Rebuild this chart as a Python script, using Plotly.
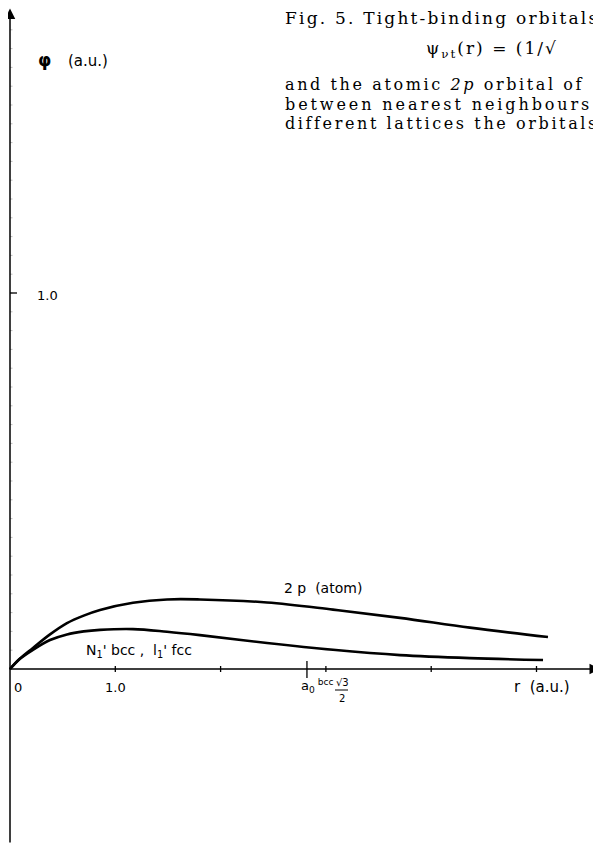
import plotly.graph_objects as go

# ---- data ----
r_2p = [0.0, 0.095, 0.218, 0.380, 0.541, 0.700, 0.855, 1.168, 1.491, 1.804, 2.441, 3.067, 3.704, 4.368, 5.109]
phi_2p = [0.0, 0.028, 0.056, 0.092, 0.122, 0.142, 0.157, 0.176, 0.185, 0.185, 0.177, 0.158, 0.136, 0.110, 0.085]

r_n1 = [0.0, 0.095, 0.218, 0.380, 0.541, 0.700, 0.855, 1.168, 1.491, 1.804, 2.441, 3.067, 3.704, 4.368, 5.062]
phi_n1 = [0.0, 0.027, 0.051, 0.077, 0.092, 0.100, 0.104, 0.106, 0.099, 0.090, 0.069, 0.051, 0.037, 0.029, 0.024]

x_ticks = [1, 2, 3, 4, 5]
x_tick_labels = ["0", "1.0"]
a0_tick = 2.82
y_major_ticks = [1.0]
y_minor_ticks = [round(0.05 * i, 2) for i in range(1, 35)]

caption_lines = [
    "Fig. 5. Tight-binding orbitals",
    "ψ<sub>νt</sub>(r) = (1/√",
    "and the atomic <i>2p</i> orbital of",
    "between nearest neighbours",
    "different lattices the orbitals",
]

# the page body has an 8px margin: the figure is drawn 8px lower/right
OFF = 8
W, H = 601 - OFF, 844 - OFF
PX_PER_R = 105.3
PX_PER_PHI = 376.0
ORIGIN_X = 10 - OFF   # figure px of r = 0
ORIGIN_Y = 669 - OFF  # figure px of phi = 0
X_RANGE = [-ORIGIN_X / PX_PER_R, (W - ORIGIN_X) / PX_PER_R]
Y_RANGE = [-(H - ORIGIN_Y) / PX_PER_PHI, ORIGIN_Y / PX_PER_PHI]

fig = go.Figure()
line_style = dict(color="black", width=2.6, shape="spline", smoothing=1.0)
fig.add_trace(go.Scatter(x=r_2p, y=phi_2p, mode="lines", line=line_style, hoverinfo="skip"))
fig.add_trace(go.Scatter(x=r_n1, y=phi_n1, mode="lines", line=line_style, hoverinfo="skip"))

# axes with arrows
ann = []
ann.append(dict(x=0, y=Y_RANGE[1] - 0.5 / PX_PER_PHI, ax=0, ay=Y_RANGE[0], xref="x", yref="y",
                axref="x", ayref="y", showarrow=True, arrowhead=2, arrowsize=1.4,
                arrowwidth=1.5, arrowcolor="black", text="", standoff=0, startstandoff=0))
ann.append(dict(x=X_RANGE[1] - 1 / PX_PER_R, y=0, ax=X_RANGE[0], ay=0, xref="x", yref="y",
                axref="x", ayref="y", showarrow=True, arrowhead=2, arrowsize=1.4,
                arrowwidth=1.5, arrowcolor="black", text="", standoff=0, startstandoff=0))

shapes = []
for t in x_ticks:
    shapes.append(dict(type="line", xref="x", yref="y", x0=t, x1=t, ysizemode="pixel",
                       yanchor=0, y0=-3, y1=3, line=dict(color="black", width=1.3)))
shapes.append(dict(type="line", xref="x", yref="y", x0=a0_tick, x1=a0_tick, ysizemode="pixel",
                   yanchor=0, y0=-9, y1=8, line=dict(color="black", width=1.3)))
for t in y_minor_ticks:
    shapes.append(dict(type="line", xref="x", yref="y", y0=t, y1=t, xsizemode="pixel",
                       xanchor=0, x0=0, x1=2.5, line=dict(color="#aaa", width=0.8)))
for t in y_major_ticks:
    shapes.append(dict(type="line", xref="x", yref="y", y0=t, y1=t, xsizemode="pixel",
                       xanchor=0, x0=0, x1=7, line=dict(color="black", width=1.3)))
# fraction bar of sqrt(3)/2
shapes.append(dict(type="line", xref="paper", yref="paper", x0=(335 - OFF) / W, x1=(348 - OFF) / W,
                   y0=1 - (690 - OFF) / H, y1=1 - (690 - OFF) / H, line=dict(color="black", width=1)))


def P(px, py, text, size=14, family="DejaVu Sans", xanchor="left", color="black"):
    return dict(x=(px - OFF) / W, y=1 - (py - OFF) / H, xref="paper", yref="paper", text=text,
                showarrow=False, xanchor=xanchor, yanchor="middle",
                font=dict(family=family, size=size, color=color))


sans = "DejaVu Sans"
ann += [
    P(36, 60, "<b>φ</b>", 17, sans),
    P(66, 61, "(a.u.)", 15, sans),
    P(35, 295, "1.0", 13, sans),
    P(12, 687, x_tick_labels[0], 13, sans),
    P(115, 687, x_tick_labels[1], 13, sans, xanchor="center"),
    P(299, 686, "a<sub>0</sub><sup> bcc</sup>", 13, sans),
    P(334, 682, "√3", 10, sans),
    P(337, 698, "2", 10, sans),
    P(512, 687, "r  (a.u.)", 15, sans),
    P(282, 588, "2 p  (atom)", 14, sans),
    P(84, 651, "N<sub>1</sub>' bcc ,  l<sub>1</sub>' fcc", 14, sans),
]


def wide(s, ls=2.0):
    return "<span style='letter-spacing:%spx'>%s</span>" % (ls, s)


serif = "DejaVu Serif"
ann += [
    P(283, 18, wide(caption_lines[0], 2.2), 17, serif),
    P(424, 50, wide(caption_lines[1], 2.0), 17, serif),
    P(283, 85, wide(caption_lines[2], 2.6), 16, serif),
    P(283, 104, wide(caption_lines[3], 2.9), 16, serif),
    P(283, 123, wide(caption_lines[4], 2.6), 16, serif),
]

fig.update_layout(
    width=W, height=H, margin=dict(l=0, r=0, t=0, b=0),
    paper_bgcolor="white", plot_bgcolor="white", showlegend=False,
    xaxis=dict(range=X_RANGE, visible=False, fixedrange=True),
    yaxis=dict(range=Y_RANGE, visible=False, fixedrange=True),
    annotations=ann, shapes=shapes,
)
fig.write_html("out.html")
